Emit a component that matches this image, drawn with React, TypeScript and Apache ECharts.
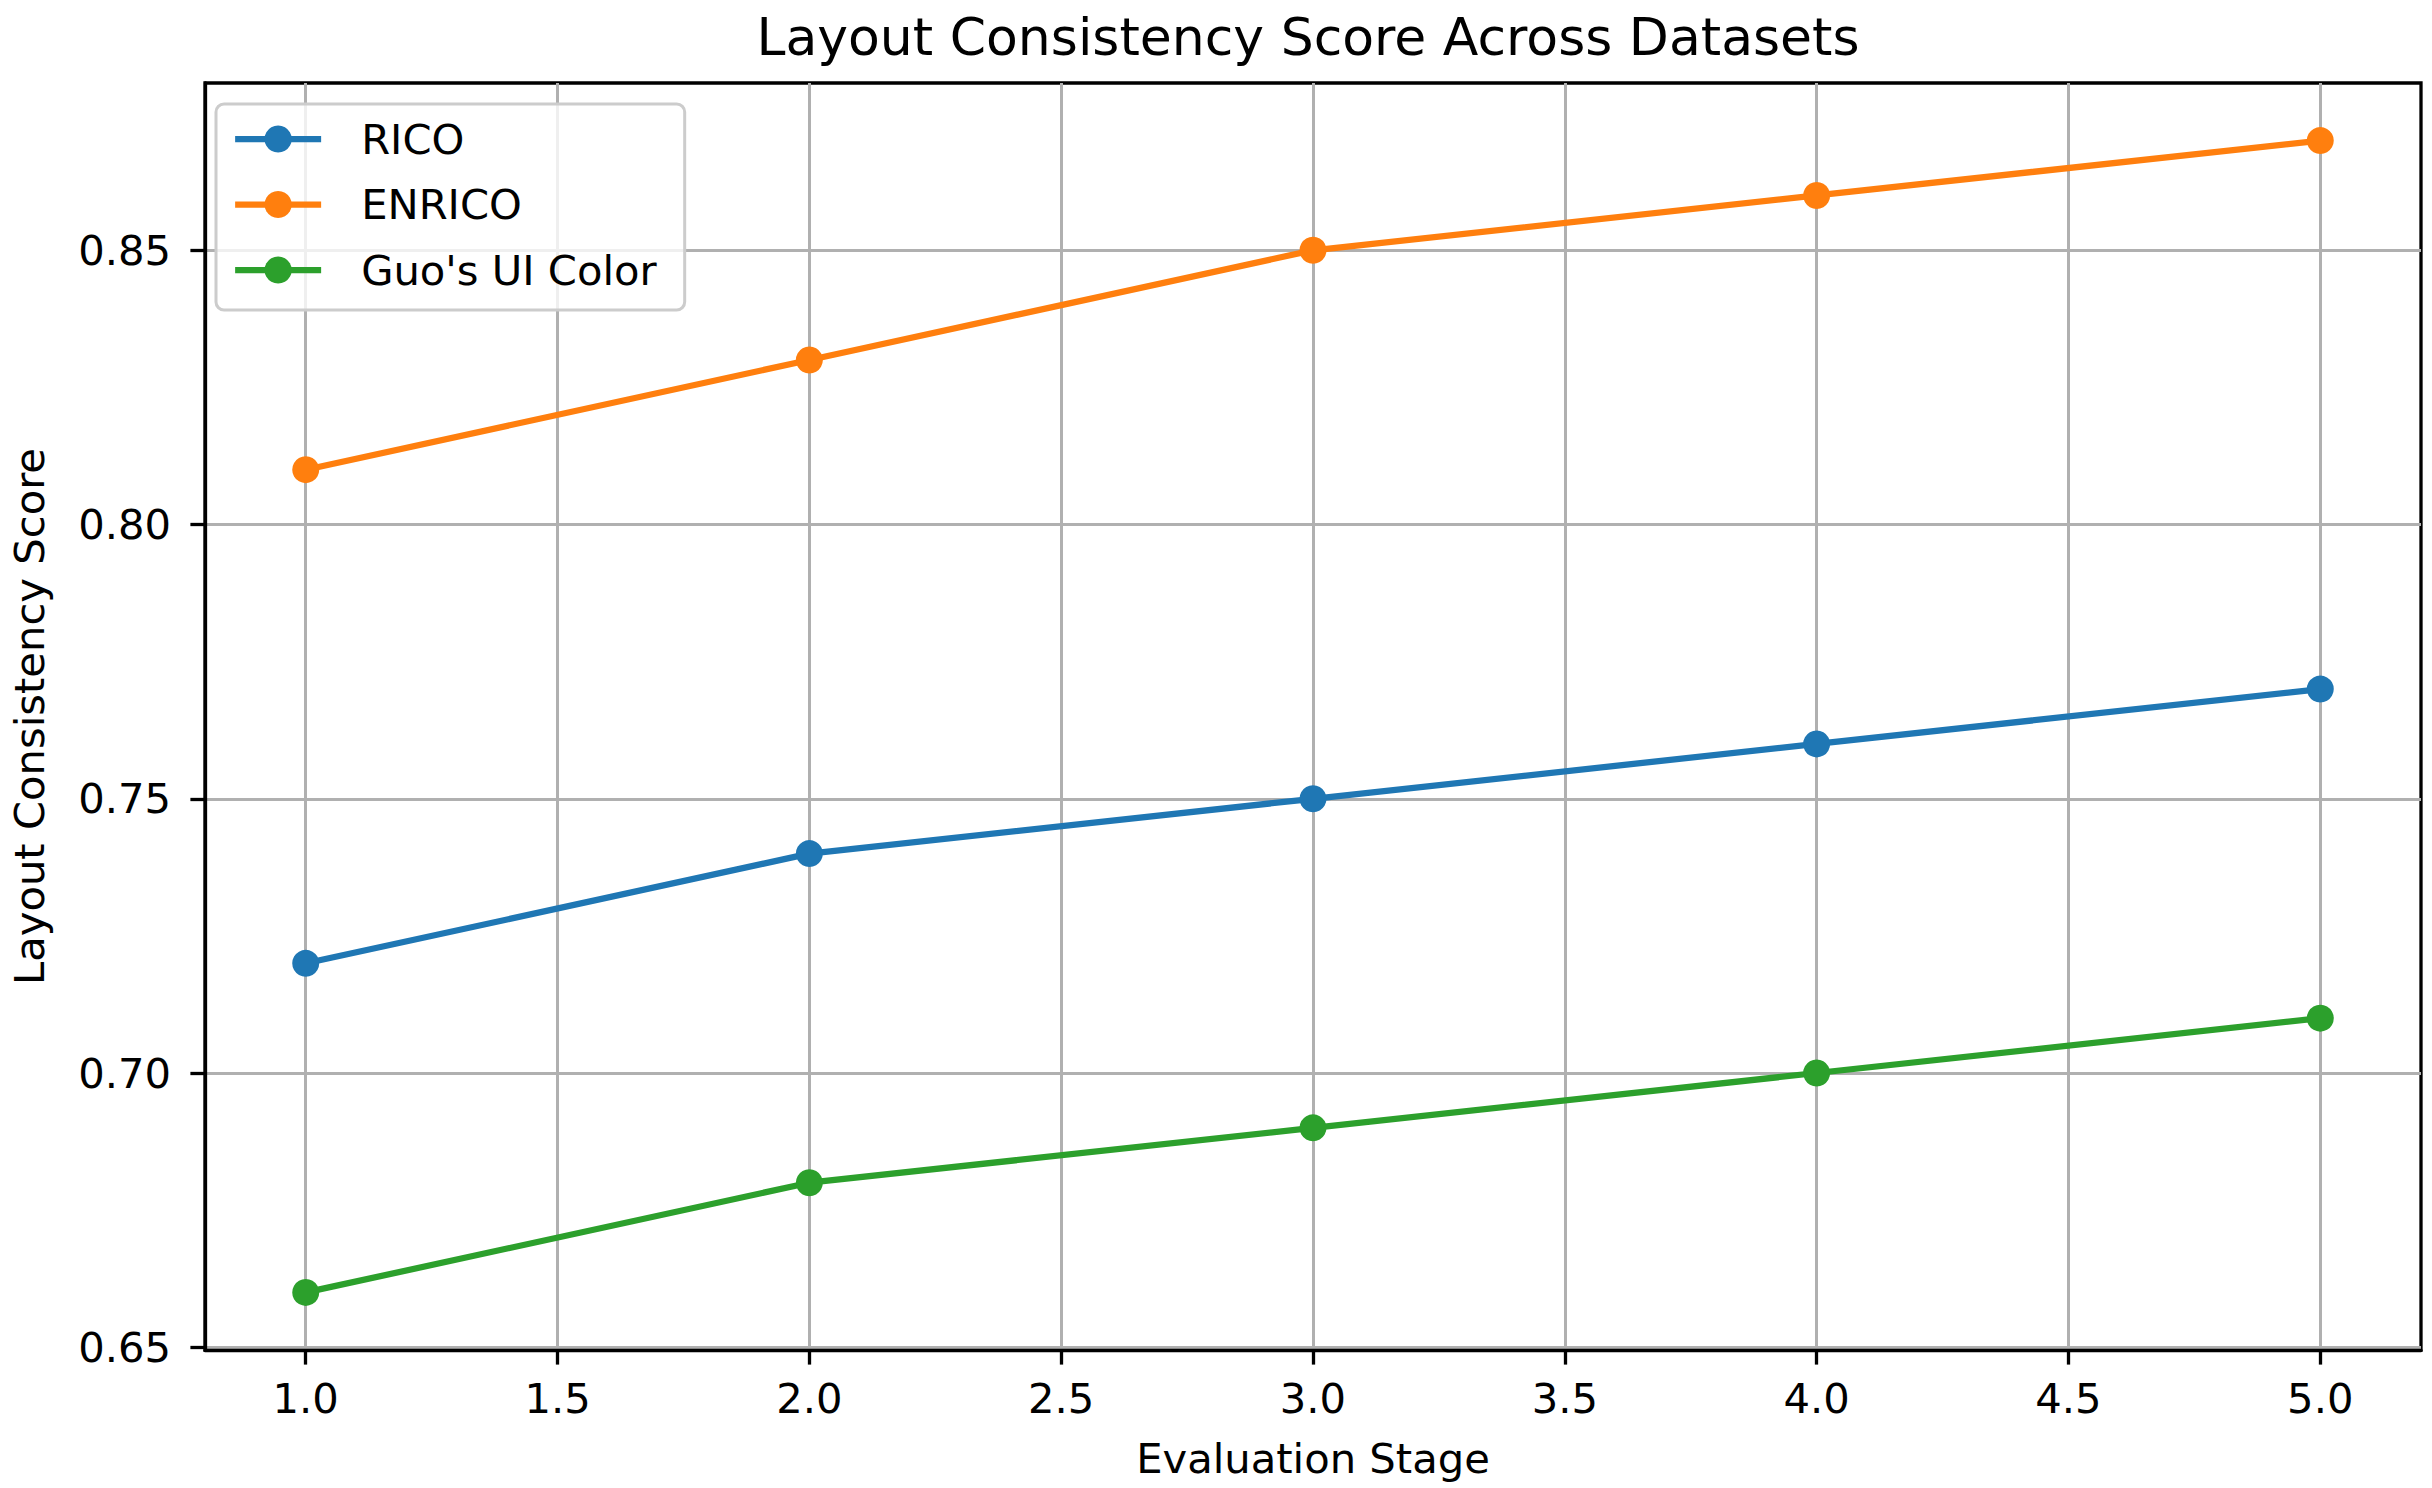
import React, { useEffect, useRef } from "react";
import * as echarts from "echarts";

const stages = [1, 2, 3, 4, 5];
const rico = [0.72, 0.74, 0.75, 0.76, 0.77];
const enrico = [0.81, 0.83, 0.85, 0.86, 0.87];
const guo = [0.66, 0.68, 0.69, 0.7, 0.71];
const xTicks = [1.0, 1.5, 2.0, 2.5, 3.0, 3.5, 4.0, 4.5, 5.0];
const yTicks = [0.65, 0.7, 0.75, 0.8, 0.85];
const seriesNames = ["RICO", "ENRICO", "Guo's UI Color"];
const seriesColors = ["#1f77b4", "#ff7f0e", "#2ca02c"];
const titleText = "Layout Consistency Score Across Datasets";
const xName = "Evaluation Stage";
const yName = "Layout Consistency Score";

const FONT = "'DejaVu Sans', sans-serif";
const FS = 41.7;
const LW = 6.25;

export default function App() {
  const ref = useRef<HTMLDivElement>(null);
  useEffect(() => {
    document.body.style.margin = "0";
    if (!ref.current) return;
    const chart = echarts.init(ref.current, undefined, { renderer: "svg" });
    const allSeries = [rico, enrico, guo];
    const option: any = {
      animation: false,
      backgroundColor: "#ffffff",
      title: {
        text: titleText,
        left: 1308,
        top: 11,
        padding: 0,
        textAlign: "center",
        textStyle: {
          fontFamily: FONT,
          fontSize: 52,
          fontWeight: "normal",
          color: "#000",
          lineHeight: 52,
        },
      },
      grid: {
        left: 195,
        right: 11,
        top: 83,
        bottom: 138,
        show: true,
        borderColor: "#000",
        borderWidth: 3.3,
        backgroundColor: "transparent",
      },
      legend: {
        orient: "vertical",
        left: 216,
        top: 104,
        padding: [14, 28, 19, 16],
        itemWidth: 86,
        itemHeight: 34,
        itemGap: 23.5,
        backgroundColor: "rgba(255,255,255,0.8)",
        borderColor: "#cccccc",
        borderWidth: 3,
        borderRadius: 8,
        data: seriesNames.map((name, i) => ({
          name,
          lineStyle: { color: seriesColors[i], width: LW },
          itemStyle: { color: seriesColors[i] },
        })),
        textStyle: {
          fontFamily: FONT,
          fontSize: FS,
          color: "#000",
          lineHeight: 42,
          padding: [0, 0, 0, 35],
        },
      },
      xAxis: {
        type: "value",
        min: 0.8,
        max: 5.2,
        name: xName,
        nameLocation: "middle",
        nameGap: 87,
        nameTextStyle: { fontFamily: FONT, fontSize: FS, color: "#000" },
        axisLine: { show: true, lineStyle: { color: "#000", width: 3.3 } },
        axisTick: {
          show: true,
          length: 14.6,
          lineStyle: { color: "#000", width: 3.3 },
          customValues: xTicks,
        },
        axisLabel: {
          customValues: xTicks,
          margin: 27,
          fontFamily: FONT,
          fontSize: FS,
          color: "#000",
          formatter: (v: number) => v.toFixed(1),
        },
        splitLine: { show: true, lineStyle: { color: "#b0b0b0", width: 3 } },
      },
      yAxis: {
        type: "value",
        min: 0.6495,
        max: 0.8805,
        name: yName,
        nameLocation: "middle",
        nameRotate: 90,
        nameGap: 155,
        nameTextStyle: { fontFamily: FONT, fontSize: FS, color: "#000" },
        axisLine: { show: true, lineStyle: { color: "#000", width: 3.3 } },
        axisTick: {
          show: true,
          length: 14.6,
          lineStyle: { color: "#000", width: 3.3 },
          customValues: yTicks,
        },
        axisLabel: {
          customValues: yTicks,
          margin: 34,
          fontFamily: FONT,
          fontSize: FS,
          color: "#000",
          formatter: (v: number) => v.toFixed(2),
        },
        splitLine: { show: true, lineStyle: { color: "#b0b0b0", width: 3 } },
      },
      series: seriesNames.map((name, i) => ({
        name,
        type: "line",
        data: stages.map((x, j) => [x, allSeries[i][j]]),
        symbol: "circle",
        symbolSize: 27,
        showSymbol: true,
        clip: false,
        color: seriesColors[i],
        lineStyle: { color: seriesColors[i], width: LW },
        itemStyle: { color: seriesColors[i], borderWidth: 0 },
        emphasis: { disabled: true },
      })),
    };
    chart.setOption(option);
    return () => chart.dispose();
  }, []);
  return <div ref={ref} style={{ width: 2432, height: 1488 }} />;
}
